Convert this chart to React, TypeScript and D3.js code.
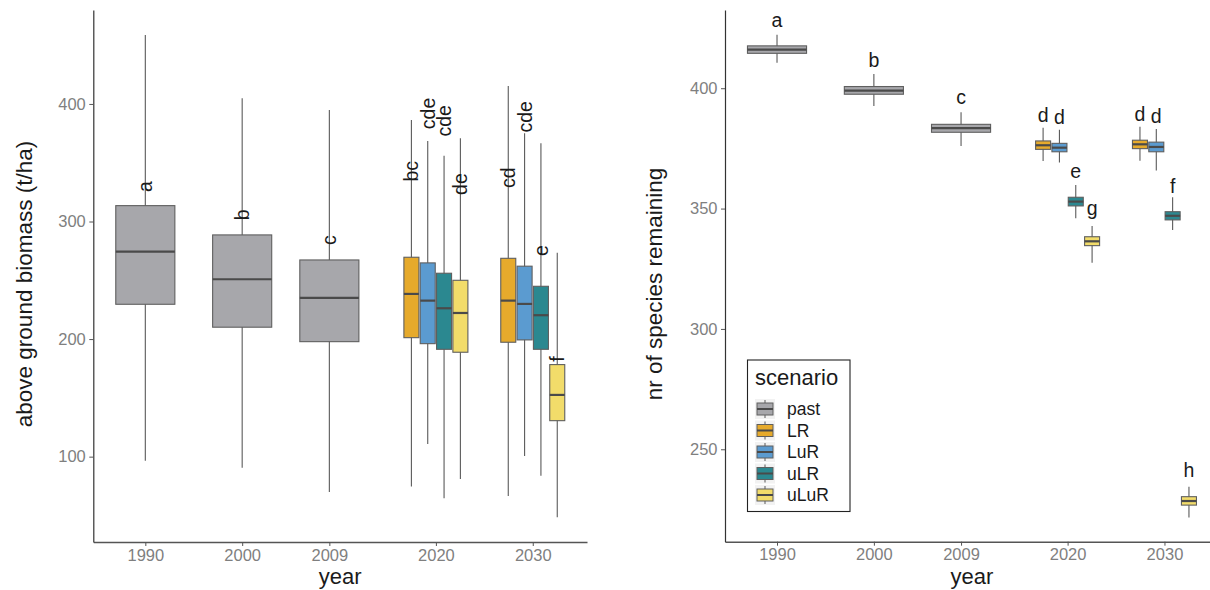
import { useEffect, useRef } from "react";
import * as d3 from "d3";

const scenarios = ["past", "LR", "LuR", "uLR", "uLuR"];
const scenarioColors = ["#A7A7AB", "#E6AA2C", "#5B9BD0", "#2B8890", "#F2DC6A"];
const yearTicks = [1990, 2000, 2009, 2020, 2030];

// one entry per box
const boxYear = [1990, 2000, 2009, 2020, 2020, 2020, 2020, 2030, 2030, 2030, 2030];
const boxScenario = ["past", "past", "past", "LR", "LuR", "uLR", "uLuR", "LR", "LuR", "uLR", "uLuR"];

// above ground biomass (t/ha)
const bioMin = [96.6, 90.6, 70, 74.5, 110.8, 64.6, 81, 66.6, 100.6, 83.8, 48.5];
const bioQ1 = [229.6, 210.1, 197.8, 201.2, 196.1, 191.3, 188.8, 197.3, 199.3, 191.3, 130.6];
const bioMed = [274.4, 250.9, 235.0, 238.4, 232.7, 226.2, 222.2, 232.7, 229.9, 220.3, 152.5];
const bioQ3 = [313.5, 288.6, 267.3, 269.6, 264.8, 256, 250, 268.7, 262, 244.9, 178.3];
const bioMax = [458.7, 404.8, 394.9, 386.3, 368.5, 356, 370.8, 415.3, 375, 366.6, 273.5];
const bioLetters = ["a", "b", "c", "bc", "cde", "cde", "de", "cd", "cde", "e", "f"];
const bioLetterY = [325, 301, 280, 334, 378.5, 372.2, 322.6, 328.5, 375.6, 270.7, 180.8];
const bioTicks = [100, 200, 300, 400];

// nr of species remaining
const spMin = [410.6, 392.6, 376.0, 369.8, 369.1, 346.0, 327.5, 369.9, 365.8, 341.1, 221.7];
const spQ1 = [414.5, 397.5, 381.7, 374.6, 373.6, 351.1, 334.6, 374.9, 373.6, 345.3, 226.8];
const spMed = [416.0, 399.0, 383.4, 376.3, 375.3, 352.9, 336.4, 376.7, 375.6, 347.0, 228.5];
const spQ3 = [417.6, 400.7, 385.0, 378.1, 377.1, 354.7, 338.3, 378.4, 377.6, 348.7, 230.3];
const spMax = [422.2, 405.9, 390.0, 383.6, 382.7, 359.8, 342.8, 384.0, 383.1, 354.7, 234.4];
const spLetters = ["a", "b", "c", "d", "d", "e", "g", "d", "d", "f", "h"];
const spLetterY = [425.5, 409.0, 393.5, 386.1, 385.2, 362.6, 347.5, 386.5, 385.5, 356.6, 238.6];
const spTicks = [250, 300, 350, 400];

const FONT = "'Liberation Sans', Arial, sans-serif";
const xDomain = [1984.63, 2035.6];
const pastWidth = 6.1;
const slot = 1.686;
const dodgeWidth = 1.55;

function boxCenter(i) {
    const s = boxScenario[i];
    if (s === "past") return boxYear[i];
    const k = scenarios.indexOf(s) - 1;
    return boxYear[i] + (k - 1.5) * slot;
}

function drawPanel(svg, p) {
    const x = d3.scaleLinear().domain(xDomain).range(p.xRange);
    const y = d3.scaleLinear().domain(p.yDomain).range([p.bottom, p.top]);
    const g = svg.append("g");

    // boxes
    boxYear.forEach((yr, i) => {
        const cx = x(boxCenter(i));
        const w = boxScenario[i] === "past" ? pastWidth : dodgeWidth;
        const half = (x(yr + w) - x(yr)) / 2;
        const fill = scenarioColors[scenarios.indexOf(boxScenario[i])];
        g.append("line")
            .attr("x1", cx).attr("x2", cx)
            .attr("y1", y(p.max[i])).attr("y2", y(p.min[i]))
            .attr("stroke", "#5a5a5a").attr("stroke-width", 1.1);
        g.append("rect")
            .attr("x", cx - half).attr("width", half * 2)
            .attr("y", y(p.q3[i])).attr("height", y(p.q1[i]) - y(p.q3[i]))
            .attr("fill", fill)
            .attr("stroke", "#5f5f5f").attr("stroke-width", 1.1);
        g.append("line")
            .attr("x1", cx - half).attr("x2", cx + half)
            .attr("y1", y(p.med[i])).attr("y2", y(p.med[i]))
            .attr("stroke", "#4a4a4a").attr("stroke-width", 2.2);
    });

    // letters
    boxYear.forEach((yr, i) => {
        const cx = x(boxCenter(i));
        const t = g.append("text")
            .attr("fill", "#1a1a1a")
            .style("font-family", FONT)
            .text(p.letters[i]);
        if (p.rotate) {
            t.attr("transform", `translate(${cx},${y(p.letterY[i])}) rotate(-90)`)
                .attr("text-anchor", "start")
                .attr("dominant-baseline", "central")
                .style("font-size", "19.5px");
        } else {
            t.attr("x", cx).attr("y", y(p.letterY[i]))
                .attr("text-anchor", "middle")
                .style("font-size", "19.5px");
        }
    });

    // axes
    const xa = svg.append("g")
        .attr("transform", `translate(0,${p.bottom})`)
        .call(d3.axisBottom(x).tickValues(yearTicks).tickFormat(d3.format("d")).tickSize(4).tickSizeOuter(0).tickPadding(3));
    xa.select(".domain").attr("stroke", "#555").attr("stroke-width", 1.5);
    const ya = svg.append("g")
        .attr("transform", `translate(${p.xRange[0]},0)`)
        .call(d3.axisLeft(y).tickValues(p.ticks).tickSize(4).tickSizeOuter(0).tickPadding(3.5));
    ya.select(".domain").attr("stroke", "#333").attr("stroke-width", 1.2);
    [xa, ya].forEach(a => {
        a.selectAll(".tick line").attr("stroke", "#555");
        a.selectAll(".tick text").attr("fill", "#7f7f7f").style("font-size", "16.5px").style("font-family", FONT);
    });

    // titles
    svg.append("text")
        .attr("x", (p.xRange[0] + p.xRange[1]) / 2)
        .attr("y", 584)
        .attr("text-anchor", "middle")
        .attr("fill", "#1a1a1a")
        .style("font-size", "22px").style("font-family", FONT)
        .text("year");
    svg.append("text")
        .attr("transform", `translate(${p.titleX},284) rotate(-90)`)
        .attr("text-anchor", "middle")
        .attr("dominant-baseline", "central")
        .attr("fill", "#1a1a1a")
        .style("font-size", "22.5px").style("font-family", FONT)
        .text(p.title);
}

export default function App() {
    const svgRef = useRef(null);

    useEffect(() => {
        const svg = d3.select(svgRef.current);
        svg.selectAll("*").remove();

        drawPanel(svg, {
            xRange: [93.3, 587], top: 10, bottom: 542,
            yDomain: [27.4, 479.9], ticks: bioTicks,
            min: bioMin, q1: bioQ1, med: bioMed, q3: bioQ3, max: bioMax,
            letters: bioLetters, letterY: bioLetterY, rotate: true,
            title: "above ground biomass (t/ha)", titleX: 24,
        });
        drawPanel(svg, {
            xRange: [725, 1218.7], top: 10, bottom: 541.7,
            yDomain: [211.6, 432.5], ticks: spTicks,
            min: spMin, q1: spQ1, med: spMed, q3: spQ3, max: spMax,
            letters: spLetters, letterY: spLetterY, rotate: false,
            title: "nr of species remaining", titleX: 654,
        });

        // legend
        const lg = svg.append("g");
        lg.append("rect")
            .attr("x", 747.5).attr("y", 360).attr("width", 102.5).attr("height", 151.5)
            .attr("fill", "white").attr("stroke", "#222").attr("stroke-width", 1.1);
        lg.append("text")
            .attr("x", 755).attr("y", 385)
            .attr("fill", "#1a1a1a")
            .style("font-size", "22px").style("font-family", FONT)
            .text("scenario");
        scenarios.forEach((s, i) => {
            const cy = 409 + i * 21.5;
            lg.append("rect")
                .attr("x", 755).attr("y", cy - 10).attr("width", 20).attr("height", 20)
                .attr("fill", "#F2F2F2");
            lg.append("line")
                .attr("x1", 765).attr("x2", 765).attr("y1", cy - 9).attr("y2", cy + 9)
                .attr("stroke", "#5a5a5a").attr("stroke-width", 1);
            lg.append("rect")
                .attr("x", 757).attr("y", cy - 6).attr("width", 16).attr("height", 12)
                .attr("fill", scenarioColors[i]).attr("stroke", "#5f5f5f").attr("stroke-width", 1);
            lg.append("line")
                .attr("x1", 757).attr("x2", 773).attr("y1", cy).attr("y2", cy)
                .attr("stroke", "#4a4a4a").attr("stroke-width", 2);
            lg.append("text")
                .attr("x", 787).attr("y", cy)
                .attr("dominant-baseline", "central")
                .attr("fill", "#1a1a1a")
                .style("font-size", "17.5px").style("font-family", FONT)
                .text(s);
        });
    }, []);

    return (
        <svg ref={svgRef} width={1210} height={590}
            style={{ position: "absolute", left: 0, top: 0, background: "white" }} />
    );
}
